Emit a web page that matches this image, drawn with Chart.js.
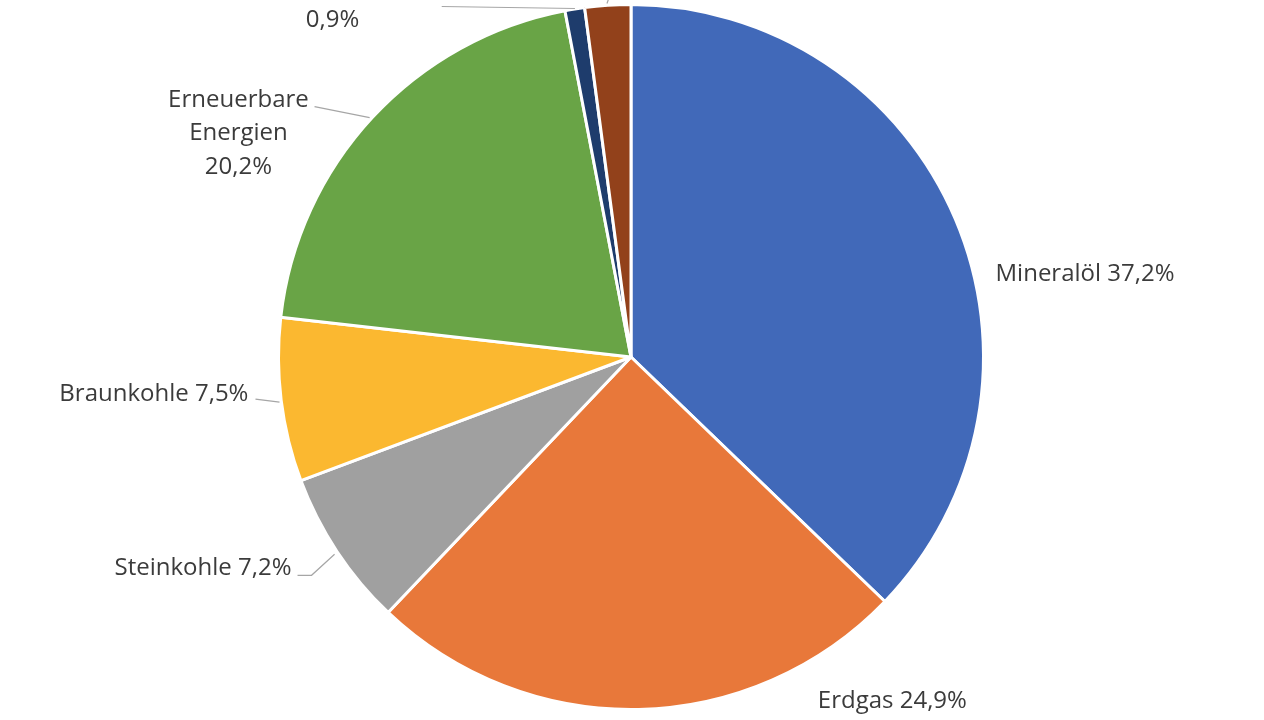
<!DOCTYPE html>
<html>
<head>
<meta charset="utf-8">
<script src="https://cdn.jsdelivr.net/npm/chart.js@4"></script>
<style>
  html, body { margin: 0; padding: 0; background: #ffffff; }
  #wrap { width: 1264px; height: 720px; position: relative; }
</style>
</head>
<body>
<div id="wrap"><canvas id="c"></canvas></div>
<script>
// ---- data ----
const categories = ["Mineralöl", "Erdgas", "Steinkohle", "Braunkohle", "Erneuerbare Energien", "Stromaustauschsaldo", "Sonstige"];
const shares = [37.2, 24.9, 7.2, 7.5, 20.2, 0.9, 2.1];
const sliceColors = ["#4169B9", "#E8783A", "#A0A0A0", "#FBB830", "#69A446", "#1E3C6C", "#92411B"];

// ---- label layout (pixels relative to pie centre, for a 352px radius) ----
const labelLayout = [
  { x: 364,  base: [-76],            align: "left",   split: false, line: null },
  { x: 261,  base: [351],            align: "center", split: false, line: null },
  { x: -339, base: [218],            align: "right",  split: false, line: [[-333, 218], [-319, 218], [-296, 197]] },
  { x: -382, base: [44],             align: "right",  split: false, line: [[-375, 42], [-351, 45]] },
  { x: -392, base: [-250, -216.5, -183], align: "center", split: true, line: [[-316, -250], [-261, -239]] },
  { x: -298, base: [-363.5, -330],   align: "center", split: "one", line: [[-189, -350], [-56, -348]] },
  { x: 20,   base: [-400],           align: "center", split: false, line: [[-24, -353], [-18, -370]] }
];

const fmt = v => v.toFixed(1).replace(".", ",") + "%";

const labelPlugin = {
  id: "sliceLabels",
  afterDatasetsDraw(chart) {
    const ctx = chart.ctx;
    const meta = chart.getDatasetMeta(0);
    const arc0 = meta.data[0];
    const cx = arc0.x, cy = arc0.y, r = arc0.outerRadius;
    const s = r / 352;
    ctx.save();
    ctx.font = "24px 'Open Sans'";
    ctx.fillStyle = "#3B3B3B";
    ctx.textBaseline = "alphabetic";
    categories.forEach((name, i) => {
      const L = labelLayout[i];
      if (L.line) {
        ctx.beginPath();
        ctx.strokeStyle = "#A6A6A6";
        ctx.lineWidth = 1.2;
        L.line.forEach((p, k) => {
          const px = cx + p[0] * s, py = cy + p[1] * s;
          if (k === 0) ctx.moveTo(px, py); else ctx.lineTo(px, py);
        });
        ctx.stroke();
      }
      let lines;
      if (L.split === true) lines = name.split(" ").concat([fmt(shares[i])]);
      else if (L.split === "one") lines = [name, fmt(shares[i])];
      else lines = [name + " " + fmt(shares[i])];
      ctx.textAlign = L.align;
      lines.forEach((t, k) => {
        ctx.fillText(t, cx + L.x * s, cy + L.base[k] * s);
      });
    });
    ctx.restore();
  }
};

new Chart(document.getElementById("c"), {
  type: "pie",
  data: {
    labels: categories,
    datasets: [{
      data: shares,
      backgroundColor: sliceColors,
      borderColor: "#ffffff",
      borderWidth: 3
    }]
  },
  options: {
    responsive: true,
    maintainAspectRatio: false,
    animation: false,
    layout: { padding: { left: 0, right: 2, top: 3, bottom: 9 } },
    plugins: {
      legend: { display: false },
      tooltip: { enabled: false }
    }
  },
  plugins: [labelPlugin]
});
</script>
</body>
</html>
